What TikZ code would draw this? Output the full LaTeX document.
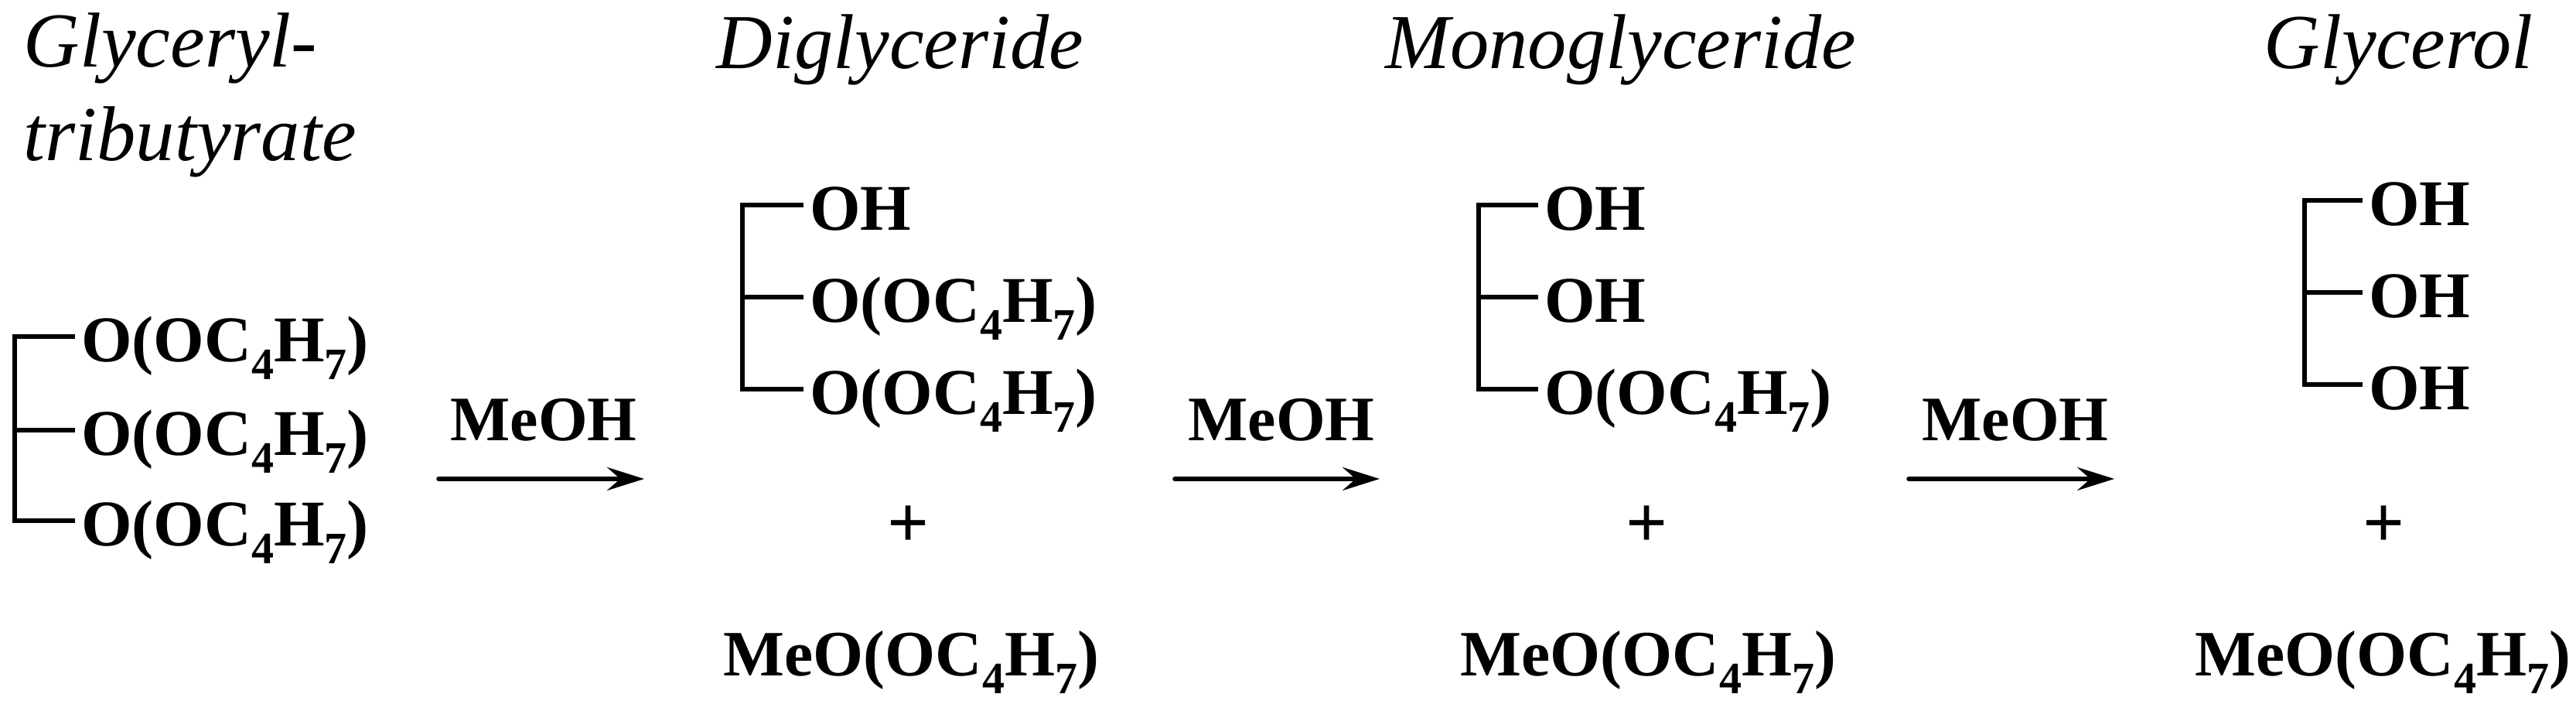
\documentclass[tikz,border=0pt]{standalone}
\usepackage{fontspec}
\setmainfont{Liberation Serif}
\usetikzlibrary{arrows.meta}
\newcommand{\sbs}[1]{\raisebox{-.27em}{\fontsize{16.5}{16.5}\selectfont #1}}
\newcommand{\butyryl}{O(OC\sbs{4}H\sbs{7})}
\tikzset{
	chemname/.style={anchor=base west, inner sep=0pt, font=\fontsize{28.6}{30}\selectfont\itshape},
	formula/.style={anchor=west, inner ysep=0pt, inner xsep=.08cm, outer sep=0pt, text height=.72cm, text depth=.06cm, font=\fontsize{24}{26}\selectfont\bfseries},
	product/.style={anchor=base west, inner sep=0pt, font=\fontsize{23.8}{26}\selectfont\bfseries},
	reagent/.style={anchor=base, inner sep=0pt, font=\fontsize{23.3}{26}\selectfont\bfseries},
	plus/.style={inner sep=0pt, font=\fontsize{27}{28}\selectfont\bfseries},
	bond/.style={line width=.06cm, line join=miter},
	reaction/.style={line width=.055cm, line cap=round, -{Stealth[length=.48cm, width=.3cm, inset=.17cm]}},
}
\begin{document}
\begin{tikzpicture}
	\useasboundingbox (0,0) rectangle (33.31,9.19);
	\node (nameA) at (.30,8.32) [chemname] {Glyceryl-};
	\node (nameAb) at (.30,7.11) [chemname] {tributyrate};
	\node (nameB) at (9.26,8.30) [chemname] {Diglyceride};
	\node (nameC) at (17.91,8.30) [chemname] {Monoglyceride};
	\node (nameD) at (29.27,8.30) [chemname] {Glycerol};

	\node (tri1) at (.97,4.84) [formula] {\butyryl};
	\node (tri2) at (.97,3.63) [formula] {\butyryl};
	\node (tri3) at (.97,2.46) [formula] {\butyryl};
	\coordinate (triTop) at (.19,4.84);
	\coordinate (triBot) at (.19,2.46);
	\draw[bond] (tri1.west) -- (triTop) -- (triBot) -- (tri3.west);
	\draw[bond] (tri2.west) -- (triTop |- tri2.west);

	\node (di1) at (10.39,6.54) [formula] {OH};
	\node (di2) at (10.39,5.35) [formula] {\butyryl};
	\node (di3) at (10.39,4.16) [formula] {\butyryl};
	\coordinate (diTop) at (9.60,6.54);
	\coordinate (diBot) at (9.60,4.16);
	\draw[bond] (di1.west) -- (diTop) -- (diBot) -- (di3.west);
	\draw[bond] (di2.west) -- (diTop |- di2.west);

	\node (mono1) at (19.89,6.54) [formula] {OH};
	\node (mono2) at (19.89,5.35) [formula] {OH};
	\node (mono3) at (19.89,4.16) [formula] {\butyryl};
	\coordinate (monoTop) at (19.12,6.54);
	\coordinate (monoBot) at (19.12,4.16);
	\draw[bond] (mono1.west) -- (monoTop) -- (monoBot) -- (mono3.west);
	\draw[bond] (mono2.west) -- (monoTop |- mono2.west);

	\node (gly1) at (30.55,6.60) [formula] {OH};
	\node (gly2) at (30.55,5.41) [formula] {OH};
	\node (gly3) at (30.55,4.22) [formula] {OH};
	\coordinate (glyTop) at (29.80,6.60);
	\coordinate (glyBot) at (29.80,4.22);
	\draw[bond] (gly1.west) -- (glyTop) -- (glyBot) -- (gly3.west);
	\draw[bond] (gly2.west) -- (glyTop |- gly2.west);

	\node (meohA) at (7.03,3.49) [reagent] {MeOH};
	\node (meohB) at (16.57,3.49) [reagent] {MeOH};
	\node (meohC) at (26.06,3.49) [reagent] {MeOH};
	\coordinate (arrA) at (5.67,3.00);
	\coordinate (arrAe) at (8.33,3.00);
	\coordinate (arrB) at (15.19,3.00);
	\coordinate (arrBe) at (17.84,3.00);
	\coordinate (arrC) at (24.68,3.00);
	\coordinate (arrCe) at (27.34,3.00);
	\draw[reaction] (arrA) -- (arrAe);
	\draw[reaction] (arrB) -- (arrBe);
	\draw[reaction] (arrC) -- (arrCe);

	\node (plusB) at (11.75,2.38) [plus] {+};
	\node (plusC) at (21.30,2.38) [plus] {+};
	\node (plusD) at (30.82,2.38) [plus] {+};

	\node (esterB) at (9.35,.45) [product] {Me\butyryl};
	\node (esterC) at (18.88,.45) [product] {Me\butyryl};
	\node (esterD) at (28.38,.45) [product] {Me\butyryl};
\end{tikzpicture}
\end{document}
